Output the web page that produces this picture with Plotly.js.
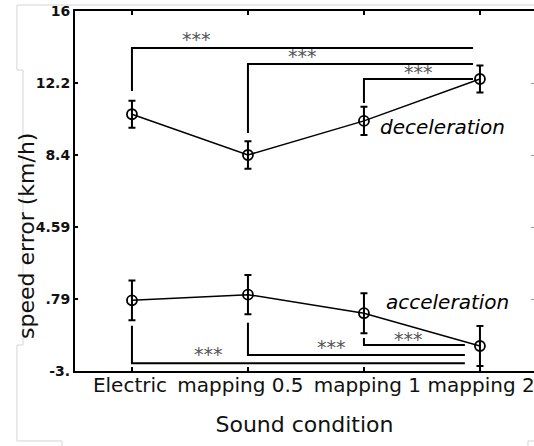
<!DOCTYPE html>
<html>
<head>
<meta charset="utf-8">
<script src="https://cdn.plot.ly/plotly-3.0.1.min.js"></script>
<style>html,body{margin:0;padding:0;background:#fff;overflow:hidden;}</style>
</head>
<body>
<div id="chart" style="width:534px;height:446px;"></div>
<script>
// ---- data ----
const categories = ['Electric', 'mapping 0.5', 'mapping 1', 'mapping 2'];
const decelMean = [10.55, 8.40, 10.20, 12.41];
const decelErr  = [0.71, 0.72, 0.74, 0.71];
const accelMean = [0.73, 1.03, 0.05, -1.68];
const accelErr  = [1.05, 1.04, 1.06, 1.05];
const yTickVals = [-3, 0.79, 4.59, 8.4, 12.2, 16];
const yTickText = ['-3.', '.79', '4.59', '8.4', '12.2', '16'];

// significance brackets (data units)
const decelBracketFrom  = [0, 1, 2];
const decelBracketTo    = [2.94, 2.94, 2.94];
const decelBracketLevel = [14.05, 13.20, 12.41];
const decelBracketFoot  = [11.78, 9.56, 11.14];
const decelStarX = [0.56, 1.47, 2.47];
const decelStarY = [14.50, 13.61, 12.76];

const accelBracketFrom  = [0, 1, 2];
const accelBracketTo    = [2.87, 2.87, 2.87];
const accelBracketLevel = [-2.59, -2.15, -1.63];
const accelBracketFoot  = [-0.61, -0.46, -1.26];
const accelStarX = [0.66, 1.72, 2.38];
const accelStarY = [-2.12, -1.75, -1.33];

const starText = '***';
// ---------------

const FONT = 'DejaVu Sans, Verdana, sans-serif';
const idx = categories.map((c, i) => i);
// small horizontal nudges of the tick labels (as in the original figure)
const labelNudge = [-0.017, -0.065, 0.03, 0.01];
const labelPos = idx.map((i, k) => i + labelNudge[k]);
const xRange = [-0.491, 3.466];

function seriesTrace(mean, err, name) {
  return {
    x: idx, y: mean, name: name, type: 'scatter', mode: 'lines+markers',
    line: {color: '#000', width: 1.5},
    marker: {symbol: 'circle-open', size: 10, color: '#000', line: {width: 1.8, color: '#000'}},
    error_y: {type: 'data', array: err, visible: true, color: '#000', thickness: 2, width: 3.5},
    hoverinfo: 'x+y', showlegend: false
  };
}

const traces = [seriesTrace(decelMean, decelErr, 'deceleration'),
                seriesTrace(accelMean, accelErr, 'acceleration')];

function bracketTraces(from, to, level, foot) {
  return from.map((f, i) => ({
    x: [f, f, to[i]], y: [foot[i], level[i], level[i]],
    type: 'scatter', mode: 'lines', line: {color: '#000', width: 2},
    hoverinfo: 'skip', showlegend: false
  }));
}
traces.push(...bracketTraces(decelBracketFrom, decelBracketTo, decelBracketLevel, decelBracketFoot));
traces.push(...bracketTraces(accelBracketFrom, accelBracketTo, accelBracketLevel, accelBracketFoot));
// empty trace so the overlay axes (labels / right-side ticks) are drawn
traces.push({x: [null], y: [null], xaxis: 'x2', yaxis: 'y2', type: 'scatter', mode: 'lines', showlegend: false, hoverinfo: 'skip'});

const starFont = {family: FONT, size: 19, color: '#555'};
const annotations = [];
decelStarX.forEach((x, i) => annotations.push({x: x, y: decelStarY[i], xref: 'x', yref: 'y', text: starText, showarrow: false, font: starFont}));
accelStarX.forEach((x, i) => annotations.push({x: x, y: accelStarY[i], xref: 'x', yref: 'y', text: starText, showarrow: false, font: starFont}));
annotations.push({x: 2.12, y: 9.88, xref: 'x', yref: 'y', text: '<i>deceleration</i>', showarrow: false, xanchor: 'left', yanchor: 'middle', font: {family: FONT, size: 20, color: '#000'}});
annotations.push({x: 2.17, y: 0.64, xref: 'x', yref: 'y', text: '<i>acceleration</i>', showarrow: false, xanchor: 'left', yanchor: 'middle', font: {family: FONT, size: 20, color: '#000'}});
annotations.push({x: -0.1068, y: 0.375, xref: 'paper', yref: 'paper', text: 'speed error (km/h)', textangle: -90, showarrow: false, xanchor: 'center', yanchor: 'middle', font: {family: FONT, size: 22, color: '#111'}});

const frameColor = '#d4d4d4';
const shapes = [
  {type: 'path', xref: 'paper', yref: 'paper', layer: 'below', line: {color: frameColor, width: 1},
   path: 'M 1.0,1.0167 L -0.1264,1.0167 L -0.1264,0.8361 L -0.1133,0.8361 L -0.1133,0.0722 L -0.1264,0.0722 L -0.1264,-0.1944 L -0.0283,-0.1944 L -0.0283,-0.2083'},
  {type: 'path', xref: 'paper', yref: 'paper', layer: 'below', line: {color: frameColor, width: 1},
   path: 'M 0.9869,-0.2083 L 0.9869,-0.1944 L 1.0,-0.1944'}
];

const layout = {
  width: 534, height: 446,
  margin: {l: 75, r: 0, t: 11, b: 75, pad: 0},
  paper_bgcolor: '#fff', plot_bgcolor: '#fff',
  font: {family: FONT, color: '#000'},
  showlegend: false,
  xaxis: {
    range: xRange, tickvals: idx, showticklabels: false,
    ticks: 'inside', ticklen: 4, tickwidth: 1.5, tickcolor: '#000',
    showline: true, linewidth: 2, linecolor: '#000', mirror: 'ticks',
    showgrid: false, zeroline: false
  },
  xaxis2: {
    overlaying: 'x', side: 'bottom', anchor: 'y',
    range: xRange, tickvals: labelPos, ticktext: categories, tickangle: 0,
    ticklabeloverflow: 'allow',
    ticks: '', showline: false, showgrid: false, zeroline: false,
    tickfont: {family: FONT, size: 20, color: '#111'},
    title: {text: 'Sound condition', font: {family: FONT, size: 22, color: '#111'}, standoff: 20}
  },
  yaxis: {
    range: [-3, 16], tickvals: yTickVals, ticktext: yTickText,
    ticks: 'inside', ticklen: 3, tickwidth: 1.5, tickcolor: '#000',
    showline: true, linewidth: 2, linecolor: '#000', mirror: false,
    showgrid: false, zeroline: false,
    tickfont: {family: FONT, size: 14, color: '#111', weight: 'bold'}
  },
  yaxis2: {
    overlaying: 'y', side: 'right', anchor: 'x', range: [-3, 16], tickvals: yTickVals,
    showticklabels: false, ticks: 'inside', ticklen: 3, tickwidth: 1, tickcolor: '#999',
    showline: false, showgrid: false, zeroline: false
  },
  annotations: annotations,
  shapes: shapes
};

Plotly.newPlot('chart', traces, layout, {displayModeBar: false, staticPlot: true});
</script>
</body>
</html>
